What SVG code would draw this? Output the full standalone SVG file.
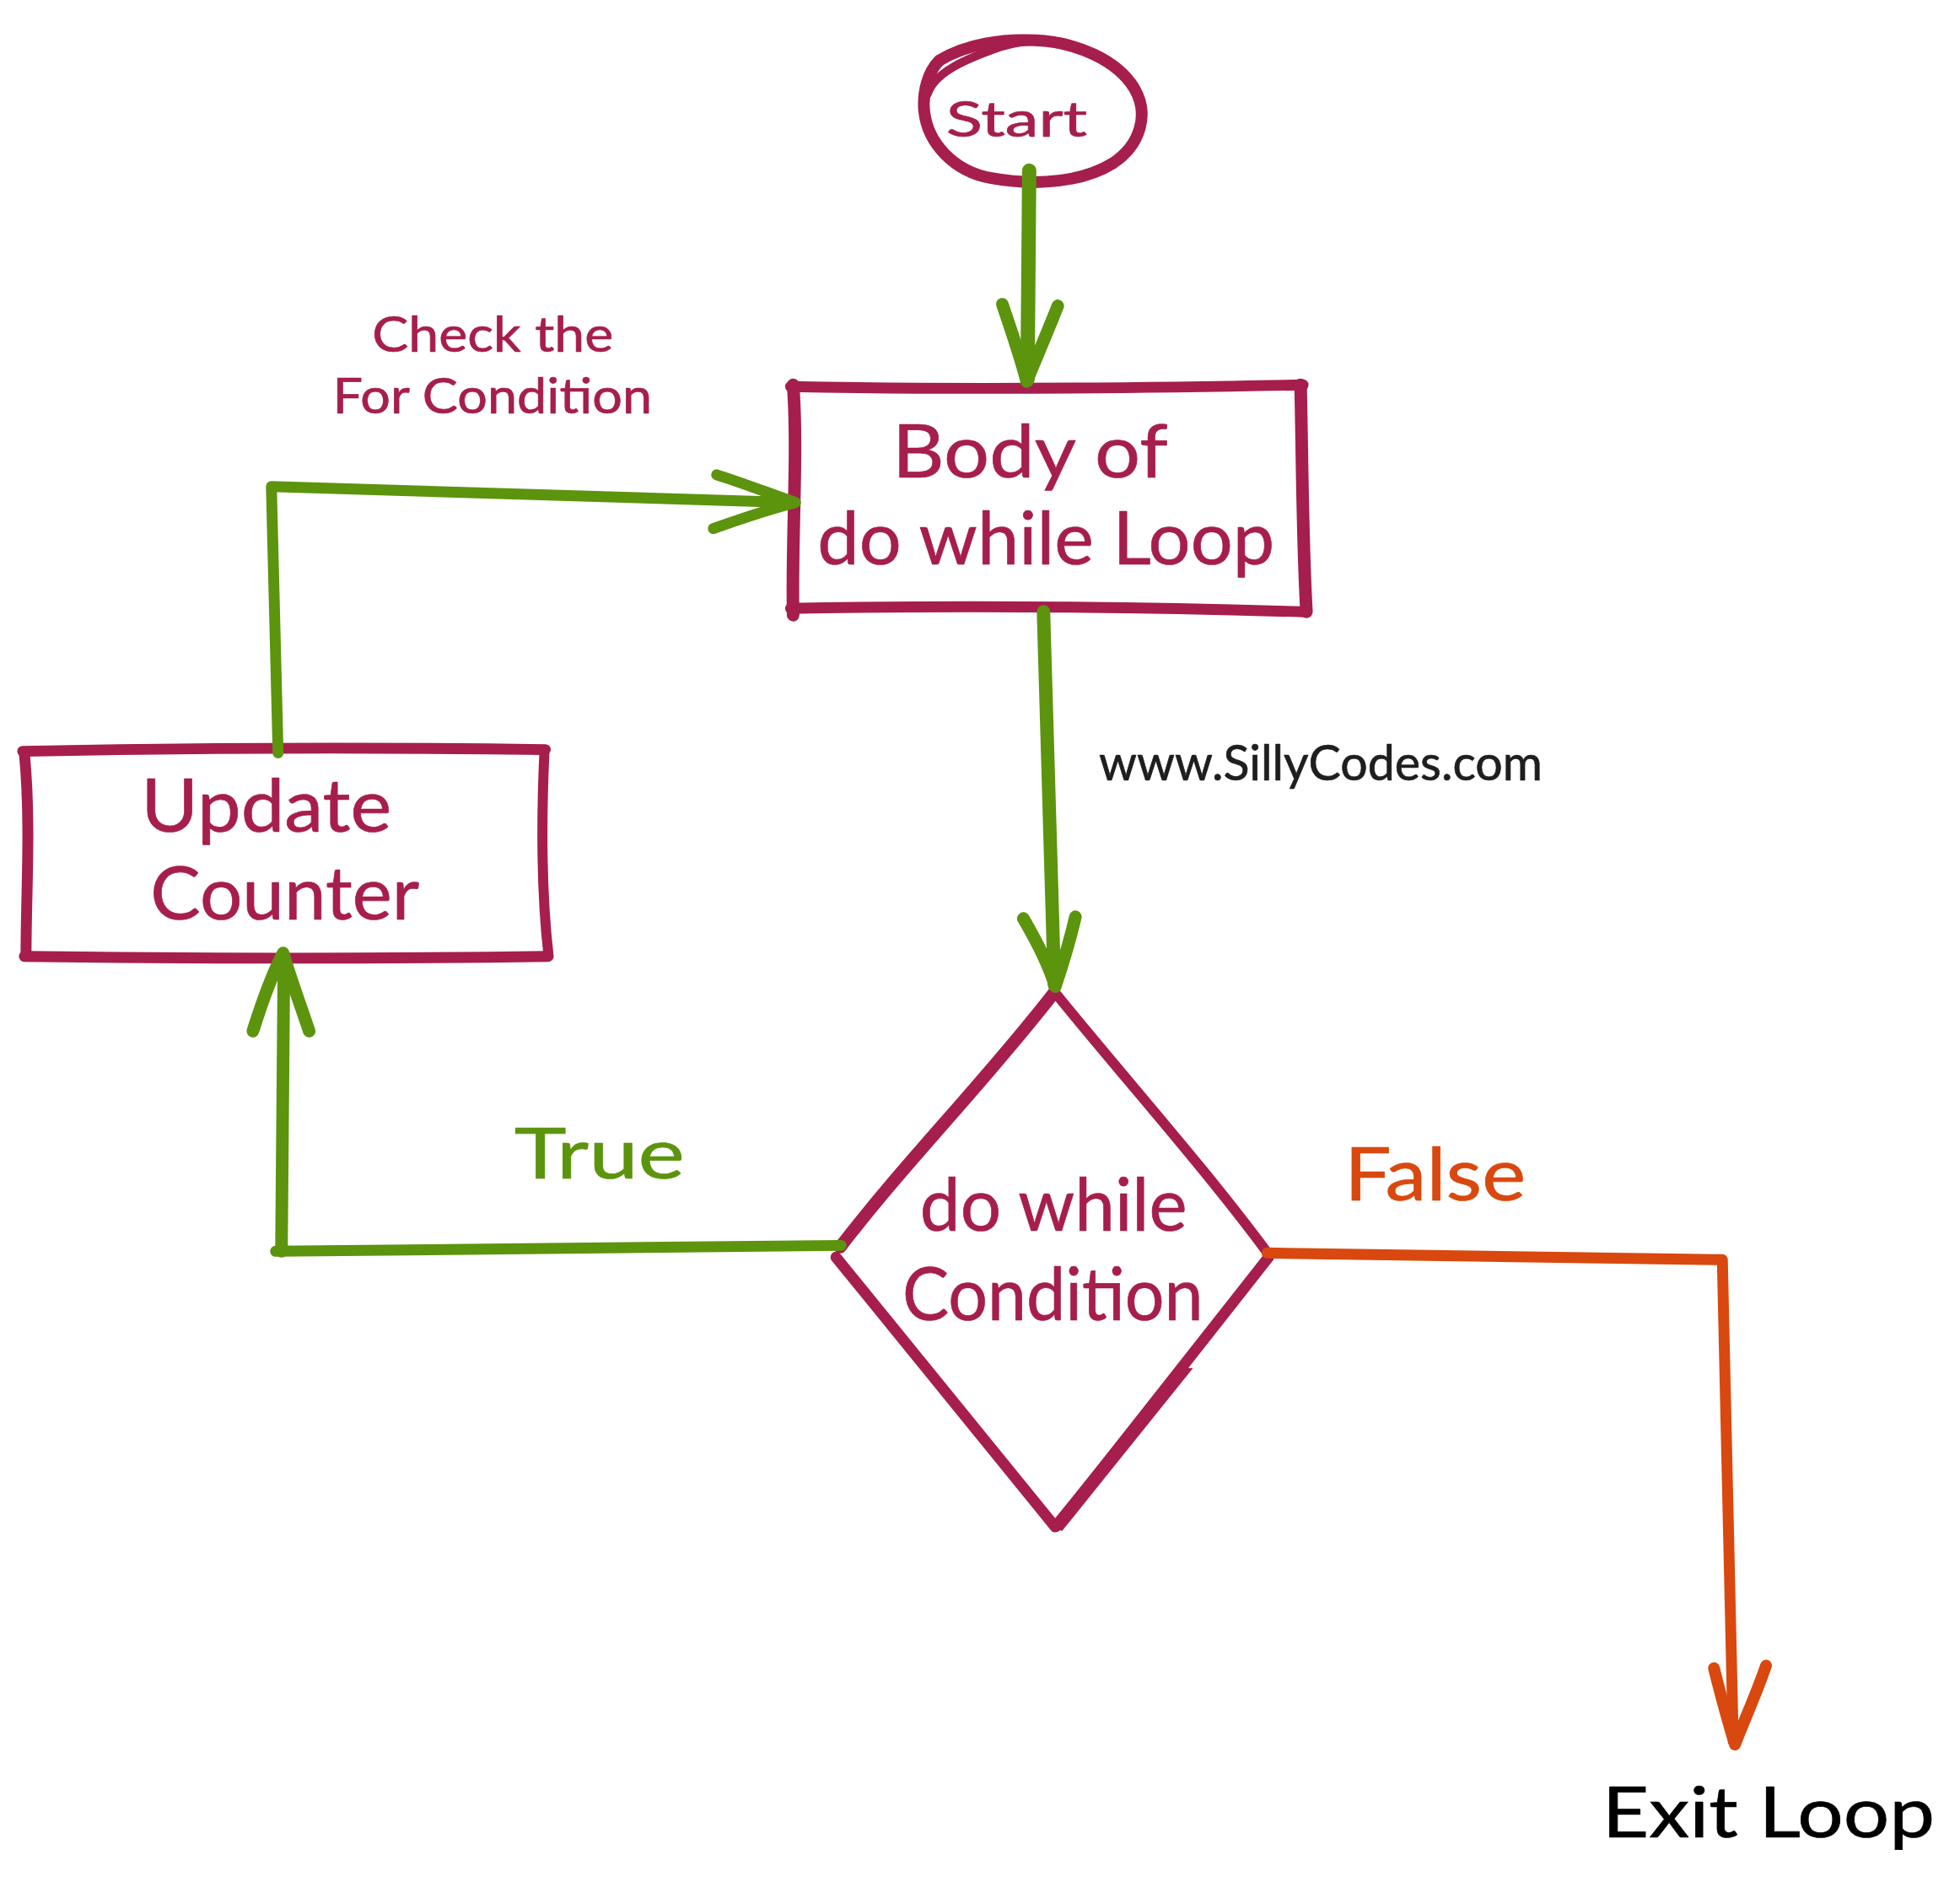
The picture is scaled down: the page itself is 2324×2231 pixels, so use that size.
<svg xmlns="http://www.w3.org/2000/svg" width="2324" height="2231" viewBox="0 0 2324 2231">
<style>
text{font-family:"Lato","Noto Sans",sans-serif;stroke-width:0.7;stroke-linejoin:round}
.m{fill:#a61e4d;stroke:#a61e4d}.g{fill:#5c940d;stroke:#5c940d}.o{fill:#d9480f;stroke:#d9480f}.d{fill:#1e1e1e;stroke:#1e1e1e}.k{fill:#000;stroke:#000}
.s{fill:none;stroke:#a61e4d;stroke-linecap:round;stroke-linejoin:round}
.c{fill:none;stroke:#5c940d;stroke-linecap:round;stroke-linejoin:round}
.r{fill:none;stroke:#d9480f;stroke-linecap:round;stroke-linejoin:round}
</style>
<rect width="2324" height="2231" fill="#fff"/>
<g transform="scale(0.9962)">
<g id="start">
<path class="s" stroke-width="14" d="M1118 72C1150 52 1195 46 1232 48C1282 50 1330 72 1350 105C1368 135 1358 172 1325 194C1290 216 1235 222 1180 212C1135 204 1104 170 1100 132C1098 110 1104 86 1118 72Z"/>
<path class="s" stroke-width="10" d="M1104 112C1112 86 1150 70 1190 56C1215 48 1240 46 1270 52"/>
<text class="m" x="1126" y="163" font-size="58" textLength="168" lengthAdjust="spacingAndGlyphs">Start</text>
</g>
<g id="body">
<path class="s" stroke-width="13" d="M941 460C1140 464 1350 462 1551 458"/>
<path class="s" stroke-width="13" d="M941 724C1150 720 1350 722 1551 728"/>
<path class="s" stroke-width="15" d="M944 458C950 540 942 640 944 732"/>
<path class="s" stroke-width="15" d="M1548 458C1550 540 1550 640 1555 728"/>
<text class="m" x="1062" y="568" font-size="88" textLength="328" lengthAdjust="spacingAndGlyphs">Body of</text>
<text class="m" x="973" y="672" font-size="88" textLength="544" lengthAdjust="spacingAndGlyphs">do while Loop</text>
</g>
<g id="update">
<path class="s" stroke-width="13" d="M27 894C220 890 430 889 649 892"/>
<path class="s" stroke-width="13" d="M29 1138C240 1141 440 1141 652 1138"/>
<path class="s" stroke-width="13" d="M29 896C37 980 31 1060 31 1136"/>
<path class="s" stroke-width="12" d="M648 894C644 980 644 1060 653 1138"/>
<text class="m" x="168" y="990" font-size="88" textLength="298" lengthAdjust="spacingAndGlyphs">Update</text>
<text class="m" x="179" y="1094" font-size="88" textLength="320" lengthAdjust="spacingAndGlyphs">Counter</text>
</g>
<g id="condition">
<path class="s" stroke-width="15" d="M1254 1182C1170 1290 1080 1380 1000 1484"/>
<path class="s" stroke-width="12" d="M1254 1179C1340 1285 1430 1385 1508 1490"/>
<path class="s" stroke-width="13" d="M995 1496L1256 1817"/>
<path class="s" stroke-width="13" d="M1510 1496L1258 1816"/>
<path fill="#a61e4d" d="M1400 1628L1420 1628L1264 1822L1250 1814Z"/>
<text class="m" x="1095" y="1465" font-size="88" textLength="318" lengthAdjust="spacingAndGlyphs">do while</text>
<text class="m" x="1074" y="1571" font-size="88" textLength="358" lengthAdjust="spacingAndGlyphs">Condition</text>
</g>
<g id="connectors">
<path class="c" stroke-width="17" d="M1225 203L1223 452"/>
<path class="c" stroke-width="15" d="M1193 362C1205 397 1215 427 1222 454C1233 427 1246 397 1259 364"/>
<path class="c" stroke-width="16" d="M1242 728L1255 1172"/>
<path class="c" stroke-width="15" d="M1218 1093C1232 1117 1248 1147 1256 1174C1265 1147 1274 1117 1280 1091"/>
<path class="c" stroke-width="13" d="M331 896L323 579L945 598"/>
<path class="c" stroke-width="13" d="M853 565C885 575 915 587 947 598C915 606 880 618 849 629"/>
<path class="c" stroke-width="13" d="M1001 1482L328 1489"/>
<path class="c" stroke-width="15" d="M335 1489L338 1137"/>
<path class="c" stroke-width="15" d="M301 1227C312 1192 325 1157 337 1134C345 1162 358 1197 368 1227"/>
<path class="r" stroke-width="13" d="M1508 1491L2050 1499L2063 2072"/>
<path class="r" stroke-width="14" d="M2040 1985C2048 2017 2056 2047 2065 2076C2076 2047 2090 2017 2102 1982"/>
</g>
<g id="labels">
<text class="m" x="443" y="419" font-size="58" textLength="287" lengthAdjust="spacingAndGlyphs">Check the</text>
<text class="m" x="396" y="492" font-size="58" textLength="380" lengthAdjust="spacingAndGlyphs">For Condition</text>
<text class="d" x="1308" y="929" font-size="58" textLength="528" lengthAdjust="spacingAndGlyphs">www.SillyCodes.com</text>
<text class="g" x="612" y="1402" font-size="84" textLength="203" lengthAdjust="spacingAndGlyphs">True</text>
<text class="o" x="1600" y="1428" font-size="88" textLength="216" lengthAdjust="spacingAndGlyphs">False</text>
<text class="k" x="1907" y="2186" font-size="84" textLength="396" lengthAdjust="spacingAndGlyphs">Exit Loop</text>
</g>
</g>
</svg>
